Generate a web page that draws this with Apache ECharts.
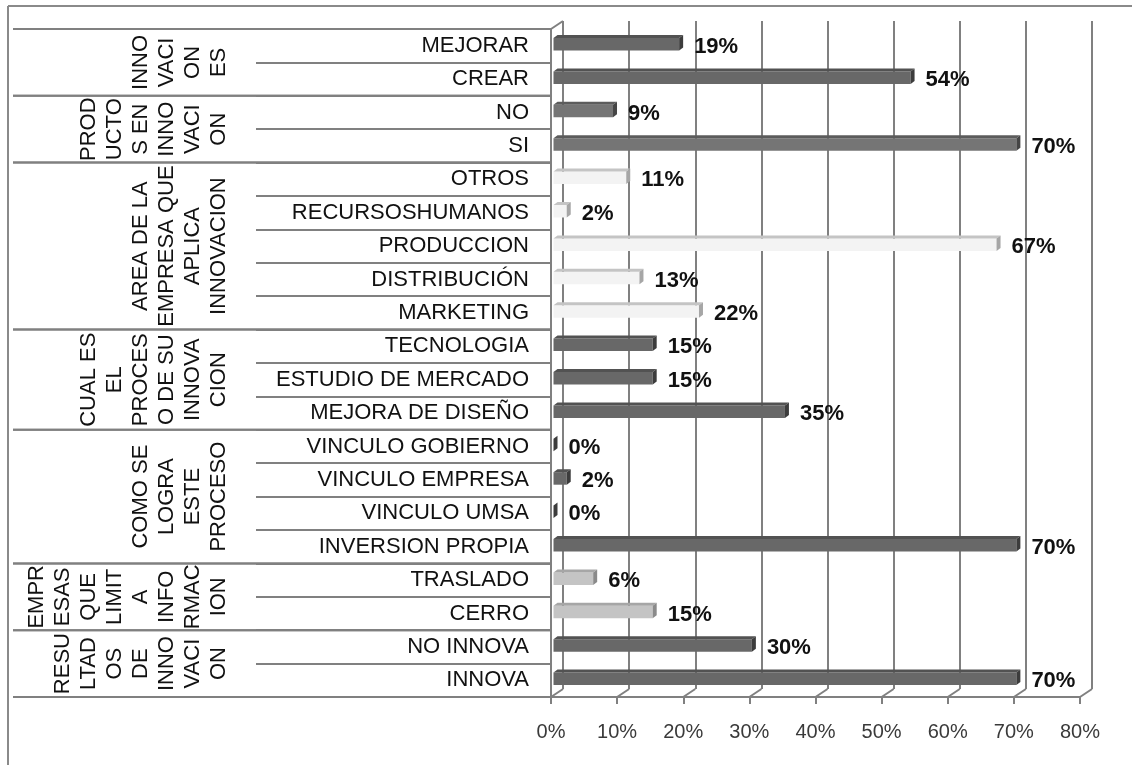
<!DOCTYPE html>
<html>
<head>
<meta charset="utf-8">
<style>
  html, body { margin: 0; padding: 0; background: #ffffff; }
  #chart { width: 1132px; height: 765px; }
</style>
<script src="https://cdn.jsdelivr.net/npm/echarts@6/dist/echarts.min.js"></script>
</head>
<body>
<div id="chart"></div>
<script>
// ---------------- DATA ----------------
const categories = [
  'MEJORAR', 'CREAR',
  'NO', 'SI',
  'OTROS', 'RECURSOSHUMANOS', 'PRODUCCION', 'DISTRIBUCIÓN', 'MARKETING',
  'TECNOLOGIA', 'ESTUDIO DE MERCADO', 'MEJORA DE DISEÑO',
  'VINCULO GOBIERNO', 'VINCULO EMPRESA', 'VINCULO UMSA', 'INVERSION PROPIA',
  'TRASLADO', 'CERRO',
  'NO INNOVA', 'INNOVA'
];
const values = [19, 54, 9, 70, 11, 2, 67, 13, 22, 15, 15, 35, 0, 2, 0, 70, 6, 15, 30, 70];
const groupNames = [
  'INNO\nVACI\nON\nES',
  'PROD\nUCTO\nS EN\nINNO\nVACI\nON',
  'AREA DE LA\nEMPRESA QUE\nAPLICA\nINNOVACION',
  'CUAL ES\nEL\nPROCES\nO DE SU\nINNOVA\nCION',
  'COMO SE\nLOGRA\nESTE\nPROCESO',
  'EMPR\nESAS\nQUE\nLIMIT\nA\nINFO\nRMAC\nION',
  'RESU\nLTAD\nOS\nDE\nINNO\nVACI\nON'
];
const groupSizes = [2, 2, 5, 3, 4, 2, 2];
const xTicks = [0, 10, 20, 30, 40, 50, 60, 70, 80];

// ---------------- STYLES ----------------
const groupStyles = [
  { front: '#686868', top: '#525252', side: '#3c3c3c' },
  { front: '#757575', top: '#5c5c5c', side: '#454545' },
  { front: '#f3f3f3', top: '#c4c4c4', side: '#a6a6a6' },
  { front: '#686868', top: '#525252', side: '#3c3c3c' },
  { front: '#686868', top: '#525252', side: '#3c3c3c' },
  { front: '#c4c4c4', top: '#a6a6a6', side: '#8a8a8a' },
  { front: '#686868', top: '#525252', side: '#3c3c3c' }
];
const FONT = '"Liberation Sans", Arial, Helvetica, sans-serif';
const LINE = '#808080';
const DEPTH_X = 12, DEPTH_Y = -8;

// ---------------- DERIVED ----------------
const catGroup = [];
const groupData = [];
let idx = 0;
groupSizes.forEach((n, g) => {
  groupData.push([0, idx, idx + n - 1, g]);
  for (let k = 0; k < n; k++) catGroup.push(g);
  idx += n;
});
const barData = values.map((v, i) => [v, i, catGroup[i]]);
const floorData = xTicks.map(v => [v, categories.length - 1]);

const chart = echarts.init(document.getElementById('chart'), null, { renderer: 'canvas' });

function renderGroup(params, api) {
  const s = api.value(1), e = api.value(2), g = api.value(3);
  const band = api.size([0, 1])[1];
  const pS = api.coord([0, s]);
  const pE = api.coord([0, e]);
  const top = pS[1] - band / 2;
  const bot = pE[1] + band / 2;
  const xr = pS[0];
  const xl = xr - 538;
  return {
    type: 'group',
    children: [
      { type: 'line', shape: { x1: xl, y1: top, x2: xr, y2: top }, style: { stroke: LINE, lineWidth: 2 } },
      { type: 'line', shape: { x1: xl, y1: bot, x2: xr, y2: bot }, style: { stroke: LINE, lineWidth: 2 } },
      {
        type: 'text',
        x: xr - 319,
        y: (top + bot) / 2,
        rotation: Math.PI / 2,
        style: {
          text: groupNames[g],
          fill: '#111',
          font: '22px ' + FONT,
          align: 'center', verticalAlign: 'bottom',
          textAlign: 'center', textVerticalAlign: 'bottom',
          lineHeight: 26
        }
      }
    ]
  };
}

function renderFloor(params, api) {
  const v = api.value(0);
  const c = api.value(1);
  const band = api.size([0, 1])[1];
  const p = api.coord([v, c]);
  const yb = p[1] + band / 2;
  const children = [
    { type: 'line', shape: { x1: p[0], y1: yb, x2: p[0] + DEPTH_X, y2: yb + DEPTH_Y }, style: { stroke: LINE, lineWidth: 2 } }
  ];
  if (params.dataIndex === 0) {
    const pt = api.coord([v, 0]);
    const yt = pt[1] - band / 2;
    children.push({ type: 'line', shape: { x1: pt[0], y1: yt, x2: pt[0] + DEPTH_X, y2: yt + DEPTH_Y }, style: { stroke: LINE, lineWidth: 2 } });
  }
  return { type: 'group', children };
}

function renderBar(params, api) {
  const v = api.value(0), c = api.value(1), g = api.value(2);
  const p0 = api.coord([0, c]);
  const p1 = api.coord([v, c]);
  const cy = p0[1];
  const x0 = p0[0] + 2.5;
  const x1 = p1[0] + 2.5;
  const ft = cy - 7.7, fb = cy + 4.8;
  const dx = 4, dy = -3;
  const st = groupStyles[g];
  return {
    type: 'group',
    children: [
      { type: 'rect', shape: { x: x0, y: ft, width: Math.max(0, x1 - x0), height: fb - ft }, style: { fill: st.front } },
      { type: 'polygon', shape: { points: [[x0, ft], [x1, ft], [x1 + dx, ft + dy], [x0 + dx, ft + dy]] }, style: { fill: st.top } },
      { type: 'polygon', shape: { points: [[x1, ft], [x1 + dx, ft + dy], [x1 + dx, fb + dy], [x1, fb]] }, style: { fill: st.side } },
      {
        type: 'text',
        x: x1 + dx + 11,
        y: cy + 1,
        style: {
          text: values[params.dataIndex] + '%',
          fill: '#111',
          font: 'bold 22px ' + FONT,
          align: 'left', verticalAlign: 'middle',
          textAlign: 'left', textVerticalAlign: 'middle'
        }
      }
    ]
  };
}

const option = {
  animation: false,
  backgroundColor: '#ffffff',
  grid: [
    { left: 551, top: 29, width: 529, height: 668 },
    { left: 563, top: 21, width: 529, height: 668 }
  ],
  xAxis: [
    {
      gridIndex: 0, type: 'value',
      min: xTicks[0], max: xTicks[xTicks.length - 1], interval: xTicks[1] - xTicks[0],
      axisLine: { show: true, lineStyle: { color: LINE, width: 2 } },
      axisTick: { show: true, length: 7, lineStyle: { color: LINE, width: 2 } },
      splitLine: { show: false },
      axisLabel: { formatter: '{value}%', color: '#3a3a3a', fontSize: 20, fontFamily: FONT, margin: 25 }
    },
    {
      gridIndex: 1, type: 'value',
      min: xTicks[0], max: xTicks[xTicks.length - 1], interval: xTicks[1] - xTicks[0],
      axisLine: { show: false }, axisTick: { show: false }, axisLabel: { show: false },
      splitLine: { show: true, lineStyle: { color: LINE, width: 2 } }
    }
  ],
  yAxis: [
    {
      gridIndex: 0, type: 'category', data: categories, inverse: true,
      axisLine: { show: true, lineStyle: { color: LINE, width: 2 } },
      axisTick: { show: true, length: 295, interval: 0, alignWithLabel: false, lineStyle: { color: LINE, width: 2 } },
      axisLabel: { color: '#111', fontSize: 22, fontFamily: FONT, margin: 22, interval: 0 },
      splitLine: { show: false }
    },
    { gridIndex: 1, type: 'value', show: false, min: 0, max: 1 }
  ],
  graphic: [
    { type: 'line', shape: { x1: 8, y1: 6, x2: 1132, y2: 6 }, style: { stroke: '#8a8a8a', lineWidth: 2 } },
    { type: 'line', shape: { x1: 8, y1: 6, x2: 8, y2: 765 }, style: { stroke: '#8a8a8a', lineWidth: 2 } }
  ],
  series: [
    { type: 'custom', name: 'table', xAxisIndex: 0, yAxisIndex: 0, clip: false, silent: true, z: 3,
      renderItem: renderGroup, data: groupData },
    { type: 'custom', name: 'floor', xAxisIndex: 0, yAxisIndex: 0, clip: false, silent: true, z: 3,
      renderItem: renderFloor, data: floorData },
    { type: 'custom', name: 'bars', xAxisIndex: 0, yAxisIndex: 0, clip: false, z: 5,
      renderItem: renderBar, data: barData }
  ]
};
chart.setOption(option);
</script>
</body>
</html>
